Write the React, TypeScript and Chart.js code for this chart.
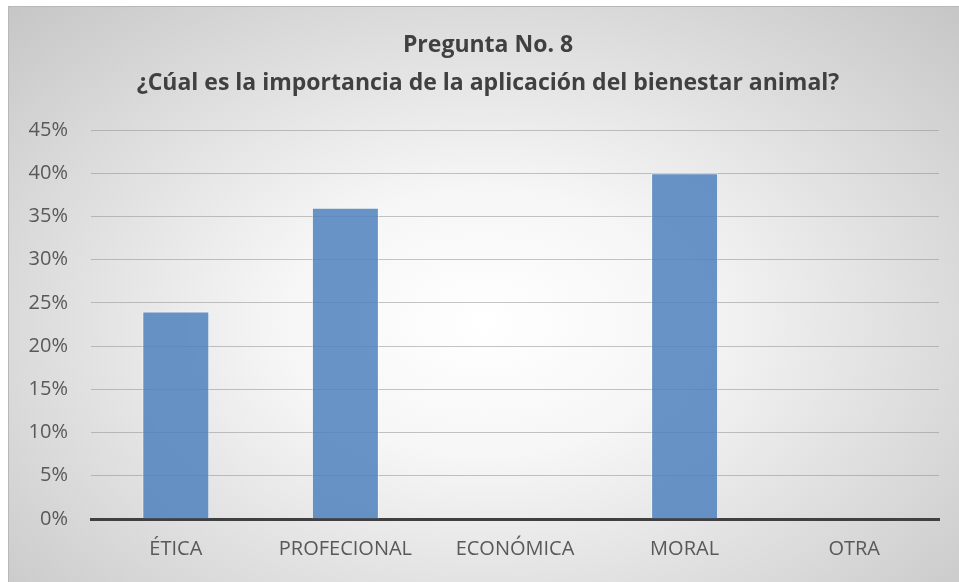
import React, { useEffect, useRef } from "react";
import { Chart, registerables } from "chart.js";

Chart.register(...registerables);

const titleLines = ["Pregunta No. 8", "¿Cúal es la importancia de la aplicación del bienestar animal?"];
const categories = ["ÉTICA", "PROFECIONAL", "ECONÓMICA", "MORAL", "OTRA"];
const values = [24, 36, 0, 40, 0];
const yMax = 45;
const yStep = 5;

const FONT = "'Open Sans', sans-serif";

const titlePlugin = {
  id: "twoLineTitle",
  afterDraw(chart: any) {
    const ctx = chart.ctx;
    ctx.save();
    ctx.fillStyle = "#404040";
    ctx.textAlign = "center";
    ctx.textBaseline = "middle";
    ctx.font = `bold 23px ${FONT}`;
    ctx.fillText(titleLines[0], chart.width / 2 + 4, 38);
    ctx.fillText(titleLines[1], chart.width / 2 + 4, 76);
    ctx.restore();
  },
};

export default function App() {
  const ref = useRef<HTMLCanvasElement>(null);
  useEffect(() => {
    if (!ref.current) return;
    const chart = new Chart(ref.current, {
      type: "bar",
      data: {
        labels: categories,
        datasets: [
          {
            data: values,
            backgroundColor: "rgba(79,129,189,0.85)",
            borderColor: "rgba(255,255,255,0.45)",
            borderWidth: 1,
            barPercentage: 0.395,
            categoryPercentage: 1,
          },
        ],
      },
      options: {
        animation: false,
        responsive: false,
        layout: { padding: { top: 123, right: 20, left: 0, bottom: 0 } },
        plugins: { legend: { display: false }, title: { display: false }, tooltip: { enabled: false } },
        scales: {
          x: {
            grid: { display: false, drawTicks: false },
            border: { display: true, color: "#404040", width: 3 },
            ticks: { color: "#595959", font: { family: FONT, size: 20 }, padding: 18 },
            afterFit: (s: any) => { s.height = 63; },
          },
          y: {
            min: 0,
            max: yMax,
            grid: { color: "rgba(140,140,140,0.5)", lineWidth: 1, drawTicks: false },
            border: { display: false },
            ticks: {
              stepSize: yStep,
              color: "#595959",
              font: { family: FONT, size: 20 },
              padding: 23,
              callback: (v: any) => `${v}%`,
            },
            afterFit: (s: any) => { s.width = 82; },
          },
        },
      },
      plugins: [titlePlugin],
    });
    return () => chart.destroy();
  }, []);
  return (
    <div
      style={{
        position: "fixed",
        left: 8,
        top: 6,
        width: 951,
        height: 576,
        borderTop: "1px solid #b8b8b8",
        borderLeft: "1px solid #b8b8b8",
        background: "radial-gradient(ellipse farthest-corner at 50% 55%, #ffffff 0%, #f6f6f6 30%, #c6c6c6 100%)",
        boxSizing: "border-box",
        overflow: "hidden",
      }}
    >
      <canvas ref={ref} width={950} height={575} style={{ display: "block" }} />
    </div>
  );
}
